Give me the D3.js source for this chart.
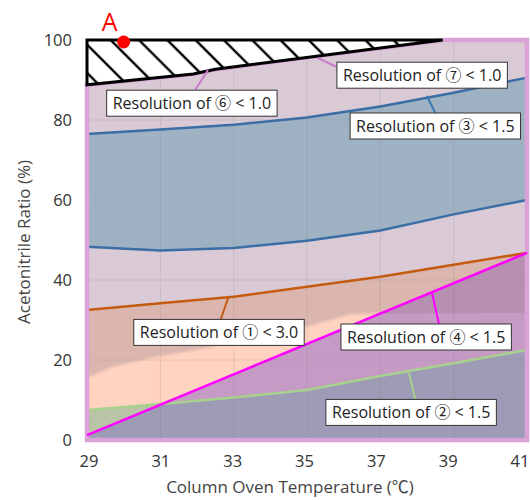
<!DOCTYPE html>
<html><head><meta charset="utf-8">
<script src="https://cdn.jsdelivr.net/npm/d3@7"></script>
<style>body{margin:0;background:#fff}svg{display:block}text{font-family:"Open Sans","Noto Sans CJK JP",sans-serif}</style>
</head><body><svg id="c" width="530" height="500"></svg>
<script>
// ---- data ----
const temps = [29, 31, 33, 35, 37, 39, 41];
const blueUpper = [76.5, 77.6, 78.8, 80.6, 83.4, 86.8, 90.6];
const blueLower = [48.3, 47.4, 48.0, 49.8, 52.4, 56.4, 60.0];
const orangeLine = [32.5, 34.2, 35.8, 38.3, 40.8, 43.8, 46.8];
const greenLine = [7.5, 9.0, 10.6, 12.5, 16.0, 19.2, 22.5];
const magentaTemps = [29, 41];
const magentaLine = [1.2, 46.8];
const peachTemps = [29, 29.7, 31, 33, 35, 36.2, 41];
const peachLine = [15.5, 18.3, 21.0, 24.2, 28.3, 31.5, 31.8];
const hatchTemps = [29, 31.9, 32.5, 38.7];
const hatchLower = [88.8, 91.5, 92.7, 100];
const pointA = {t: 30, v: 99.5};
const xTicks = [29, 31, 33, 35, 37, 39, 41];
const yTicks = [0, 20, 40, 60, 80, 100];
const labels = [
  {text: "Resolution of ⑥ < 1.0", c: [31.86, 84.2], from: [32.3, 92.5], to: [31.95, 87.5], color: "#c87cc8"},
  {text: "Resolution of ⑦ < 1.0", c: [38.14, 91.2], from: [35.3, 95.5], to: [36.1, 92.0], color: "#c87cc8"},
  {text: "Resolution of ③ < 1.5", c: [38.5, 78.5], from: [38.27, 86.0], to: [38.5, 81.75], color: "#3a78b5"},
  {text: "Resolution of ① < 3.0", c: [32.6, 26.9], from: [32.85, 35.5], to: [32.65, 30.25], color: "#c55a11"},
  {text: "Resolution of ④ < 1.5", c: [38.25, 25.75], from: [38.41, 36.75], to: [38.6, 29.0], color: "#ff00ff"},
  {text: "Resolution of ② < 1.5", c: [37.84, 6.9], from: [37.78, 16.75], to: [37.95, 10.25], color: "#a9d18e"}
];

// ---- chart ----
const svg = d3.select("#c");
const x = d3.scaleLinear().domain([29, 41]).range([87, 527]);
const xLab = d3.scaleLinear().domain([29, 41]).range([89, 520]);
const y = d3.scaleLinear().domain([0, 100]).range([440, 40]);
const pts = (ts, vs) => ts.map((t, i) => [t, vs[i]]);
const line = d3.line().x(d => x(d[0])).y(d => y(d[1]));
const defs = svg.append("defs");

const regionPts = pts(hatchTemps, hatchLower).concat([[41, 100], [41, 0], [29, 0]]);
const blueBand = pts(temps, blueLower).concat(pts(temps, blueUpper).reverse());
const belowOrange = pts(temps, orangeLine).concat([[41, 0], [29, 0]]);
const belowPeach = pts(peachTemps, peachLine).concat([[41, 0], [29, 0]]);
const magPts = pts(magentaTemps, magentaLine);
const rightMag = magPts.concat([[41, 0], [29, 0]]);
const leftMag = magPts.concat([[29, 100]]);
const belowGreen = pts(temps, greenLine).concat([[41, 0], [29, 0]]);

defs.append("clipPath").attr("id", "cpPeach").append("path").attr("d", line(belowPeach) + "Z");
defs.append("clipPath").attr("id", "cpRight").append("path").attr("d", line(rightMag) + "Z");
defs.append("clipPath").attr("id", "cpLeft").append("path").attr("d", line(leftMag) + "Z");
defs.append("filter").attr("id", "soft").append("feGaussianBlur").attr("stdDeviation", 1.5);
const pat = defs.append("pattern").attr("id", "hatch").attr("patternUnits", "userSpaceOnUse")
  .attr("width", 20).attr("height", 20).attr("patternTransform", "rotate(-45)");
pat.append("rect").attr("width", 20).attr("height", 20).attr("fill", "#fff");
pat.append("line").attr("x1", 10).attr("x2", 10).attr("y1", 0).attr("y2", 20).attr("stroke", "#000").attr("stroke-width", 2.4);

const g = svg.append("g");
g.append("path").attr("d", line(regionPts) + "Z").attr("fill", "#d9cad6");
g.append("path").attr("d", line(blueBand) + "Z").attr("fill", "#9fb2c3");
g.append("path").attr("d", line(belowOrange) + "Z").attr("fill", "#dbb6ae");
g.append("path").attr("d", line(belowPeach) + "Z").attr("fill", "#ffd3bf").attr("filter", "url(#soft)");
g.append("path").attr("d", line(rightMag) + "Z").attr("fill", "#b68fb1");
g.append("path").attr("d", line(rightMag) + "Z").attr("fill", "#c59bc5").attr("clip-path", "url(#cpPeach)");
g.append("path").attr("d", line(belowGreen) + "Z").attr("fill", "#9e9bb6").attr("clip-path", "url(#cpRight)");
g.append("path").attr("d", line(belowGreen) + "Z").attr("fill", "#b9c4a7").attr("clip-path", "url(#cpLeft)");

// grid
const gridG = svg.append("g").attr("stroke", "rgba(90,90,90,0.13)").attr("stroke-width", 1);
xTicks.slice(1, -1).forEach(t => gridG.append("line").attr("x1", x(t)).attr("x2", x(t)).attr("y1", y(100)).attr("y2", y(0)));
yTicks.slice(1).forEach(v => gridG.append("line").attr("x1", x(29)).attr("x2", x(41)).attr("y1", y(v)).attr("y2", y(v)));

// lines
const drawLine = (p, c, w) => svg.append("path").attr("d", line(p)).attr("fill", "none").attr("stroke", c).attr("stroke-width", w);
drawLine(pts(temps, blueUpper), "#3b6ea5", 2.5);
drawLine(pts(temps, blueLower), "#3b6ea5", 2.5);
drawLine(pts(temps, orangeLine), "#c55a11", 2.5);
drawLine(pts(temps, greenLine), "#a9d18e", 2.5);

// region outline
svg.append("path").attr("d", line(regionPts) + "Z").attr("fill", "none").attr("stroke", "#dba2d8").attr("stroke-width", 4.5);
drawLine(magPts, "#ff00ff", 2.5);

// hatched region
const hatchPts = [[29, 100], [38.7, 100]].concat(pts(hatchTemps, hatchLower).reverse());
svg.append("path").attr("d", line(hatchPts) + "Z").attr("fill", "url(#hatch)").attr("stroke", "#000").attr("stroke-width", 3).attr("stroke-linejoin", "miter");

// labels
labels.forEach(L => {
  svg.append("line").attr("x1", x(L.from[0])).attr("y1", y(L.from[1])).attr("x2", x(L.to[0])).attr("y2", y(L.to[1]))
    .attr("stroke", L.color).attr("stroke-width", 2);
  const gg = svg.append("g").attr("transform", `translate(${x(L.c[0])},${y(L.c[1])})`);
  const r = gg.append("rect");
  const t = gg.append("text").attr("text-anchor", "middle").attr("dy", "0.36em").attr("font-size", 16).attr("fill", "#222").text(L.text);
  const w = t.node().getComputedTextLength() + 12;
  r.attr("x", -w / 2).attr("y", -13).attr("width", w).attr("height", 26).attr("fill", "#fff").attr("stroke", "#333").attr("stroke-width", 1);
});

// point A
svg.append("circle").attr("cx", x(pointA.t)).attr("cy", y(pointA.v)).attr("r", 6.5).attr("fill", "#ff0000");
svg.append("text").attr("x", x(pointA.t) - 14).attr("y", y(pointA.v) - 11).attr("text-anchor", "middle").attr("font-size", 25).attr("fill", "#ff0000").text("A");

// axes
const tickLab = svg.append("g").attr("font-size", 16.5);
xTicks.forEach(t => tickLab.append("text").attr("x", xLab(t)).attr("y", 467).attr("text-anchor", "middle").attr("fill", "#333").text(t));
yTicks.forEach(v => tickLab.append("text").attr("x", 72).attr("y", y(v)).attr("dy", "0.36em").attr("text-anchor", "end").attr("fill", "#333").text(v));
svg.append("text").attr("x", 290).attr("y", 493).attr("text-anchor", "middle").attr("font-size", 17).attr("fill", "#444").text("Column Oven Temperature (℃)");
svg.append("text").attr("transform", "translate(30,242) rotate(-90)").attr("text-anchor", "middle").attr("font-size", 17).attr("fill", "#444").text("Acetonitrile Ratio (%)");
</script></body></html>
